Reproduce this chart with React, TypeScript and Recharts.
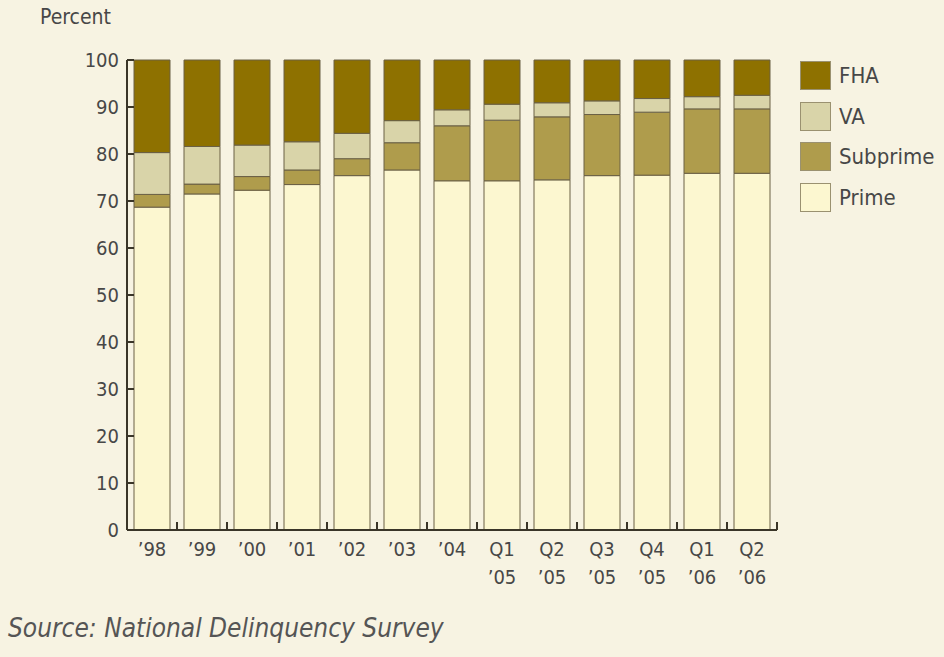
import React from "react"
import { Bar, BarChart, XAxis, YAxis } from "recharts"

const periods = ["’98", "’99", "’00", "’01", "’02", "’03", "’04", "Q1\n’05", "Q2\n’05", "Q3\n’05", "Q4\n’05", "Q1\n’06", "Q2\n’06"]
const prime = [68.7, 71.5, 72.3, 73.5, 75.4, 76.6, 74.3, 74.3, 74.5, 75.4, 75.5, 75.9, 75.9]
const subprime = [2.7, 2.1, 2.9, 3.1, 3.6, 5.8, 11.7, 12.9, 13.4, 13.0, 13.4, 13.7, 13.7]
const va = [8.9, 8.0, 6.7, 6.0, 5.4, 4.7, 3.4, 3.4, 3.0, 2.9, 2.9, 2.6, 2.9]
const fha = [19.7, 18.4, 18.1, 17.4, 15.6, 12.9, 10.6, 9.4, 9.1, 8.7, 8.2, 7.8, 7.5]
const yTicks = [0, 10, 20, 30, 40, 50, 60, 70, 80, 90, 100]

const W = 944
const H = 657
const MARGIN = { top: 60, right: 167, bottom: 67, left: 0 }
const Y_AXIS_W = 127
const BAND = (W - MARGIN.left - MARGIN.right - Y_AXIS_W) / periods.length

const FONT = "'DejaVu Sans Condensed', 'Liberation Sans Narrow', 'DejaVu Sans', sans-serif"
const TEXT = "#474747"
const INK = "#3a3528"
const BG = "#f7f3e2"

const series = [
  { key: "prime", name: "Prime", fill: "#fcf7d0" },
  { key: "subprime", name: "Subprime", fill: "#af9c4c" },
  { key: "va", name: "VA", fill: "#d9d4a9" },
  { key: "fha", name: "FHA", fill: "#8e7100" },
]

const data = periods.map((p, i) => ({
  period: p,
  prime: prime[i],
  subprime: subprime[i],
  va: va[i],
  fha: fha[i],
}))

function PeriodTick({ x, y, payload }: any) {
  const lines = String(payload.value).split("\n")
  const right = x + BAND / 2
  return (
    <g>
      {/* tick marks sit between the bars, pointing up */}
      <line x1={right} x2={right} y1={y} y2={y - 8} stroke={INK} strokeWidth={2} />
      {lines.map((l, k) => (
        <text key={k} x={x} y={y + 26 + k * 28} textAnchor="middle" fill={TEXT} fontSize={20} fontFamily={FONT}>
          {l}
        </text>
      ))}
    </g>
  )
}

function LegendBox() {
  const items = [...series].reverse()
  return (
    <div style={{ position: "absolute", left: 800, top: 55, fontFamily: FONT }}>
      {items.map(s => (
        <div key={s.key} style={{ display: "flex", alignItems: "center", height: 40.7 }}>
          <div style={{ width: 31, height: 29, background: s.fill, border: "1px solid #9a9170", boxSizing: "border-box" }} />
          <span style={{ marginLeft: 8, fontSize: 22, color: TEXT }}>{s.name}</span>
        </div>
      ))}
    </div>
  )
}

export default function App() {
  return (
    <div style={{ position: "absolute", left: 0, top: 0, width: W, height: H, background: BG, overflow: "hidden" }}>
      <div style={{ position: "absolute", left: 40, top: 5, fontFamily: FONT, fontSize: 21, color: TEXT }}>Percent</div>
      <BarChart width={W} height={H} data={data} margin={MARGIN} barCategoryGap="14%">
        <YAxis
          width={Y_AXIS_W}
          domain={[0, 100]}
          ticks={yTicks}
          interval={0}
          tickSize={-7}
          tickMargin={15}
          axisLine={{ stroke: INK, strokeWidth: 2 }}
          tickLine={{ stroke: INK, strokeWidth: 2 }}
          tick={{ fill: TEXT, fontSize: 20, fontFamily: FONT }}
        />
        <XAxis
          dataKey="period"
          height={60}
          interval={0}
          tickSize={0}
          tickMargin={0}
          tickLine={false}
          axisLine={{ stroke: INK, strokeWidth: 2 }}
          tick={<PeriodTick />}
        />
        {series.map(s => (
          <Bar
            key={s.key}
            dataKey={s.key}
            name={s.name}
            stackId="share"
            fill={s.fill}
            stroke="#6a6045"
            strokeWidth={1}
            isAnimationActive={false}
          />
        ))}
      </BarChart>
      <LegendBox />
      <div style={{ position: "absolute", left: 8, top: 613, fontFamily: FONT, fontStyle: "italic", fontSize: 26, color: "#555" }}>
        Source: National Delinquency Survey
      </div>
    </div>
  )
}
